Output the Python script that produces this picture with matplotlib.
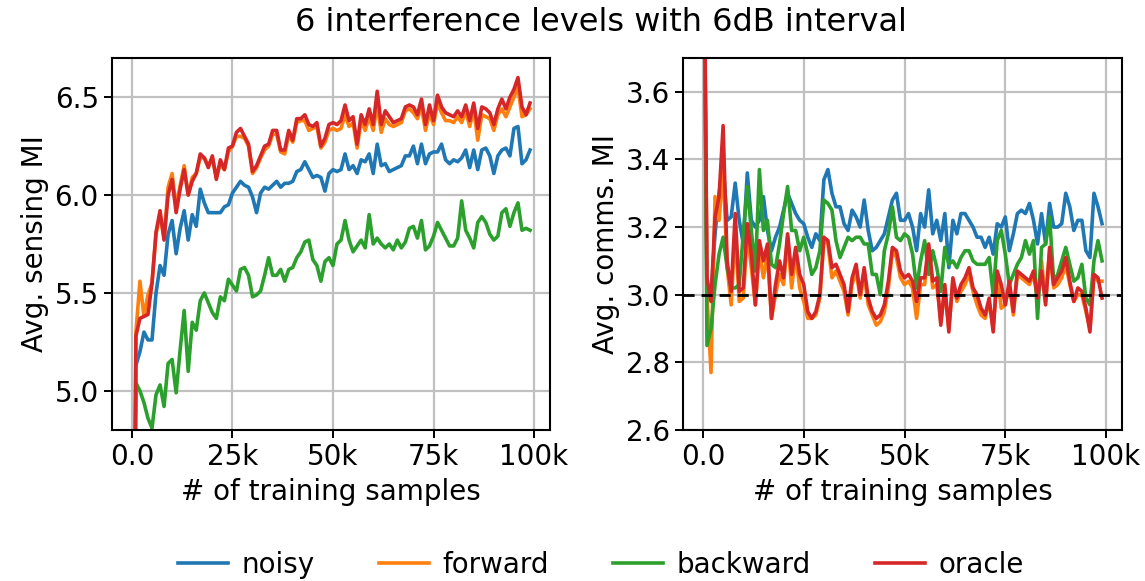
import numpy as np
import matplotlib
matplotlib.use("Agg")
import matplotlib.pyplot as plt

# ---------------- data ----------------
samples = np.arange(100) * 1000

xtick_vals = [0, 25000, 50000, 75000, 100000]
xtick_labels = ["0.0", "25k", "50k", "75k", "100k"]
series_names = ["noisy", "forward", "backward", "oracle"]

sens_noisy = [2.3, 5.13, 5.20, 5.30, 5.26, 5.26, 5.50, 5.64, 5.59, 5.80,
              5.87, 5.70, 5.83, 5.92, 5.77, 5.90, 5.84, 6.03, 5.96, 5.91,
              5.91, 5.91, 5.91, 5.94, 5.95, 6.01, 6.04, 6.07, 6.05, 6.04,
              5.99, 5.91, 6.01, 6.04, 6.03, 6.05, 6.07, 6.04, 6.06, 6.06,
              6.07, 6.12, 6.13, 6.17, 6.13, 6.09, 6.10, 6.09, 6.02, 6.11,
              6.13, 6.12, 6.13, 6.21, 6.13, 6.15, 6.11, 6.18, 6.17, 6.21,
              6.11, 6.26, 6.15, 6.16, 6.12, 6.13, 6.14, 6.15, 6.20, 6.20,
              6.25, 6.16, 6.26, 6.16, 6.21, 6.22, 6.22, 6.26, 6.18, 6.16,
              6.18, 6.17, 6.19, 6.23, 6.14, 6.23, 6.13, 6.23, 6.24, 6.20,
              6.11, 6.20, 6.23, 6.24, 6.20, 6.34, 6.35, 6.16, 6.18, 6.23]

sens_forward = [2.3, 5.30, 5.56, 5.38, 5.49, 5.55, 5.80, 5.90, 5.78, 6.04,
                6.11, 5.94, 6.05, 6.15, 6.00, 6.09, 6.11, 6.19, 6.19, 6.15,
                6.19, 6.09, 6.16, 6.13, 6.22, 6.25, 6.30, 6.30, 6.29, 6.25,
                6.11, 6.14, 6.19, 6.23, 6.25, 6.31, 6.31, 6.22, 6.21, 6.31,
                6.27, 6.37, 6.38, 6.38, 6.33, 6.34, 6.35, 6.24, 6.27, 6.33,
                6.34, 6.33, 6.34, 6.41, 6.35, 6.37, 6.24, 6.38, 6.33, 6.40,
                6.33, 6.46, 6.32, 6.39, 6.36, 6.35, 6.36, 6.37, 6.43, 6.44,
                6.42, 6.39, 6.45, 6.33, 6.42, 6.36, 6.47, 6.42, 6.38, 6.38,
                6.37, 6.40, 6.37, 6.43, 6.35, 6.44, 6.28, 6.41, 6.40, 6.39,
                6.33, 6.41, 6.44, 6.40, 6.45, 6.50, 6.55, 6.40, 6.41, 6.44]

sens_backward = [2.3, 5.04, 5.00, 4.94, 4.86, 4.81, 4.98, 5.03, 4.92, 5.14,
                 5.16, 4.99, 5.21, 5.41, 5.10, 5.35, 5.31, 5.46, 5.50, 5.45,
                 5.40, 5.37, 5.48, 5.46, 5.57, 5.54, 5.51, 5.62, 5.63, 5.59,
                 5.48, 5.49, 5.51, 5.59, 5.68, 5.59, 5.59, 5.62, 5.56, 5.62,
                 5.63, 5.68, 5.71, 5.76, 5.77, 5.67, 5.64, 5.56, 5.66, 5.68,
                 5.64, 5.75, 5.77, 5.87, 5.77, 5.71, 5.74, 5.77, 5.73, 5.90,
                 5.75, 5.78, 5.75, 5.73, 5.75, 5.72, 5.77, 5.73, 5.76, 5.83,
                 5.84, 5.78, 5.87, 5.72, 5.74, 5.79, 5.86, 5.82, 5.78, 5.74,
                 5.74, 5.78, 5.97, 5.82, 5.78, 5.73, 5.86, 5.89, 5.86, 5.80,
                 5.77, 5.79, 5.91, 5.93, 5.84, 5.91, 5.96, 5.82, 5.83, 5.82]

sens_oracle = [2.3, 5.28, 5.37, 5.38, 5.39, 5.55, 5.81, 5.92, 5.77, 6.00,
               6.08, 5.91, 6.03, 6.13, 6.00, 6.07, 6.11, 6.21, 6.19, 6.14,
               6.20, 6.08, 6.18, 6.13, 6.24, 6.25, 6.32, 6.34, 6.30, 6.26,
               6.12, 6.15, 6.20, 6.25, 6.26, 6.33, 6.33, 6.23, 6.23, 6.33,
               6.28, 6.39, 6.39, 6.41, 6.36, 6.35, 6.37, 6.25, 6.29, 6.36,
               6.37, 6.36, 6.38, 6.46, 6.38, 6.40, 6.26, 6.41, 6.36, 6.44,
               6.36, 6.53, 6.36, 6.43, 6.40, 6.37, 6.38, 6.39, 6.45, 6.46,
               6.45, 6.41, 6.49, 6.36, 6.46, 6.38, 6.51, 6.45, 6.42, 6.41,
               6.40, 6.43, 6.40, 6.46, 6.38, 6.47, 6.34, 6.45, 6.44, 6.42,
               6.36, 6.44, 6.49, 6.44, 6.50, 6.54, 6.60, 6.45, 6.41, 6.47]

comm_noisy = [4.5, 2.98, 3.00, 3.18, 3.30, 3.38, 3.22, 3.23, 3.33, 3.22,
              3.15, 3.36, 3.22, 3.20, 3.22, 3.29, 3.19, 3.13, 3.17, 3.20,
              3.25, 3.30, 3.27, 3.24, 3.22, 3.21, 3.17, 3.14, 3.18, 3.16,
              3.34, 3.37, 3.30, 3.26, 3.26, 3.21, 3.19, 3.25, 3.23, 3.20,
              3.28, 3.19, 3.13, 3.14, 3.16, 3.18, 3.23, 3.28, 3.30, 3.22,
              3.22, 3.24, 3.20, 3.13, 3.24, 3.20, 3.31, 3.18, 3.22, 3.16,
              3.24, 3.08, 3.22, 3.18, 3.24, 3.24, 3.22, 3.20, 3.17, 3.17,
              3.14, 3.17, 3.12, 3.21, 3.20, 3.23, 3.13, 3.18, 3.24, 3.25,
              3.24, 3.27, 3.22, 3.15, 3.24, 3.15, 3.27, 3.20, 3.20, 3.21,
              3.30, 3.26, 3.19, 3.22, 3.22, 3.13, 3.11, 3.30, 3.26, 3.21]

comm_forward = [4.5, 3.00, 2.77, 3.29, 3.22, 3.38, 3.08, 2.97, 3.19, 2.98,
                2.99, 3.18, 3.08, 2.97, 3.13, 3.05, 3.12, 2.93, 3.00, 3.06,
                3.03, 3.17, 3.02, 3.12, 3.02, 2.98, 2.93, 2.93, 2.94, 2.99,
                3.16, 3.15, 3.05, 3.07, 3.04, 3.01, 2.94, 3.03, 3.07, 2.99,
                3.06, 2.97, 2.94, 2.91, 2.92, 2.95, 3.02, 3.13, 3.11, 3.05,
                3.03, 3.04, 3.02, 2.93, 3.03, 3.03, 3.14, 3.02, 3.03, 2.92,
                3.01, 2.90, 3.04, 2.98, 3.01, 3.03, 3.06, 3.01, 2.97, 2.94,
                2.93, 2.98, 2.90, 3.06, 2.96, 2.97, 3.03, 2.94, 3.06, 3.05,
                3.04, 3.03, 3.06, 2.99, 3.10, 2.98, 3.13, 3.02, 3.03, 3.05,
                3.09, 3.03, 2.98, 3.00, 3.00, 2.95, 2.90, 3.06, 3.04, 3.04]

comm_backward = [4.5, 2.85, 2.90, 3.03, 3.12, 3.17, 3.08, 3.02, 3.02, 3.03,
                 3.18, 3.32, 3.19, 3.07, 3.37, 3.19, 3.22, 3.09, 3.08, 3.15,
                 3.24, 3.32, 3.19, 3.19, 3.13, 3.17, 3.12, 3.06, 3.08, 3.13,
                 3.28, 3.27, 3.25, 3.16, 3.11, 3.14, 3.17, 3.16, 3.17, 3.17,
                 3.15, 3.15, 3.06, 3.06, 3.00, 3.13, 3.18, 3.26, 3.17, 3.16,
                 3.18, 3.17, 3.12, 3.02, 3.10, 3.16, 3.06, 3.13, 3.08, 3.01,
                 3.14, 3.09, 3.10, 3.08, 3.11, 3.13, 3.13, 3.10, 3.09, 3.09,
                 3.09, 3.11, 3.00, 3.16, 3.19, 3.12, 3.03, 3.06, 3.09, 3.11,
                 3.16, 3.12, 3.16, 2.93, 3.14, 3.15, 3.23, 3.04, 3.06, 3.10,
                 3.14, 3.09, 3.04, 3.05, 3.09, 2.99, 2.97, 3.10, 3.16, 3.10]

comm_oracle = [4.5, 3.05, 2.98, 3.23, 3.29, 3.50, 3.10, 3.01, 3.24, 3.01,
               3.02, 3.21, 3.12, 2.97, 3.16, 3.10, 3.15, 2.93, 3.03, 3.10,
               3.05, 3.18, 3.06, 3.14, 3.06, 3.03, 2.95, 2.93, 2.95, 3.00,
               3.17, 3.16, 3.08, 3.09, 3.06, 3.03, 2.95, 3.05, 3.09, 3.00,
               3.08, 2.99, 2.95, 2.93, 2.94, 2.97, 3.04, 3.14, 3.13, 3.07,
               3.05, 3.06, 3.04, 2.98, 3.05, 3.05, 3.15, 3.04, 3.05, 2.91,
               3.03, 2.89, 3.05, 2.99, 3.03, 3.05, 3.08, 3.02, 3.00, 2.96,
               2.94, 2.99, 2.89, 3.07, 3.03, 2.97, 3.04, 2.95, 3.07, 3.06,
               3.05, 3.04, 3.07, 2.99, 3.07, 2.97, 3.14, 3.03, 3.05, 3.07,
               3.11, 3.04, 2.98, 3.02, 3.01, 2.96, 2.89, 3.06, 3.05, 2.99]

comm_threshold = 3.0

# ---------------- plot ----------------
plt.rcParams["font.family"] = "DejaVu Sans"
colors = ["#1f77b4", "#ff7f0e", "#2ca02c", "#d62728"]
LW = 2.6
FS = 20

fig = plt.figure(figsize=(11.45, 5.81), dpi=100)
ax1 = fig.add_axes([0.0978, 0.2599, 0.3825, 0.6403])
ax2 = fig.add_axes([0.5965, 0.2599, 0.3834, 0.6403])

sens = [sens_noisy, sens_forward, sens_backward, sens_oracle]
comm = [comm_noisy, comm_forward, comm_backward, comm_oracle]

handles = []
for name, c, ys in zip(series_names, colors, sens):
    h, = ax1.plot(samples, ys, color=c, lw=LW, label=name)
    handles.append(h)
for name, c, ys in zip(series_names, colors, comm):
    ax2.plot(samples, ys, color=c, lw=LW, label=name)
ax2.axhline(comm_threshold, color="black", ls="--", lw=2.0, dashes=(4, 2.5), zorder=5)

ax1.set_ylim(4.8, 6.7)
ax1.set_yticks([5.0, 5.5, 6.0, 6.5])
ax2.set_ylim(2.6, 3.7)
ax2.set_yticks([2.6, 2.8, 3.0, 3.2, 3.4, 3.6])

for ax in (ax1, ax2):
    ax.set_xlim(-4950, 103950)
    ax.set_xticks(xtick_vals)
    ax.set_xticklabels(xtick_labels)
    ax.grid(True, color="#c0c0c0", lw=1.6)
    ax.set_axisbelow(True)
    ax.tick_params(labelsize=FS, width=1.4, length=6)
    ax.set_xlabel("# of training samples", fontsize=FS, labelpad=5)
    for s in ax.spines.values():
        s.set_linewidth(1.5)

ax1.set_ylabel("Avg. sensing MI", fontsize=FS)
ax2.set_ylabel("Avg. comms. MI", fontsize=FS)

fig.suptitle("6 interference levels with 6dB interval", fontsize=23,
             x=0.525, y=0.988)
fig.legend(handles=handles, labels=series_names, loc="center", ncol=4,
           bbox_to_anchor=(0.525, 0.028), frameon=False, fontsize=FS,
           handlelength=1.8, handletextpad=0.5, columnspacing=2.3)

fig.savefig("out.png", dpi=100)
